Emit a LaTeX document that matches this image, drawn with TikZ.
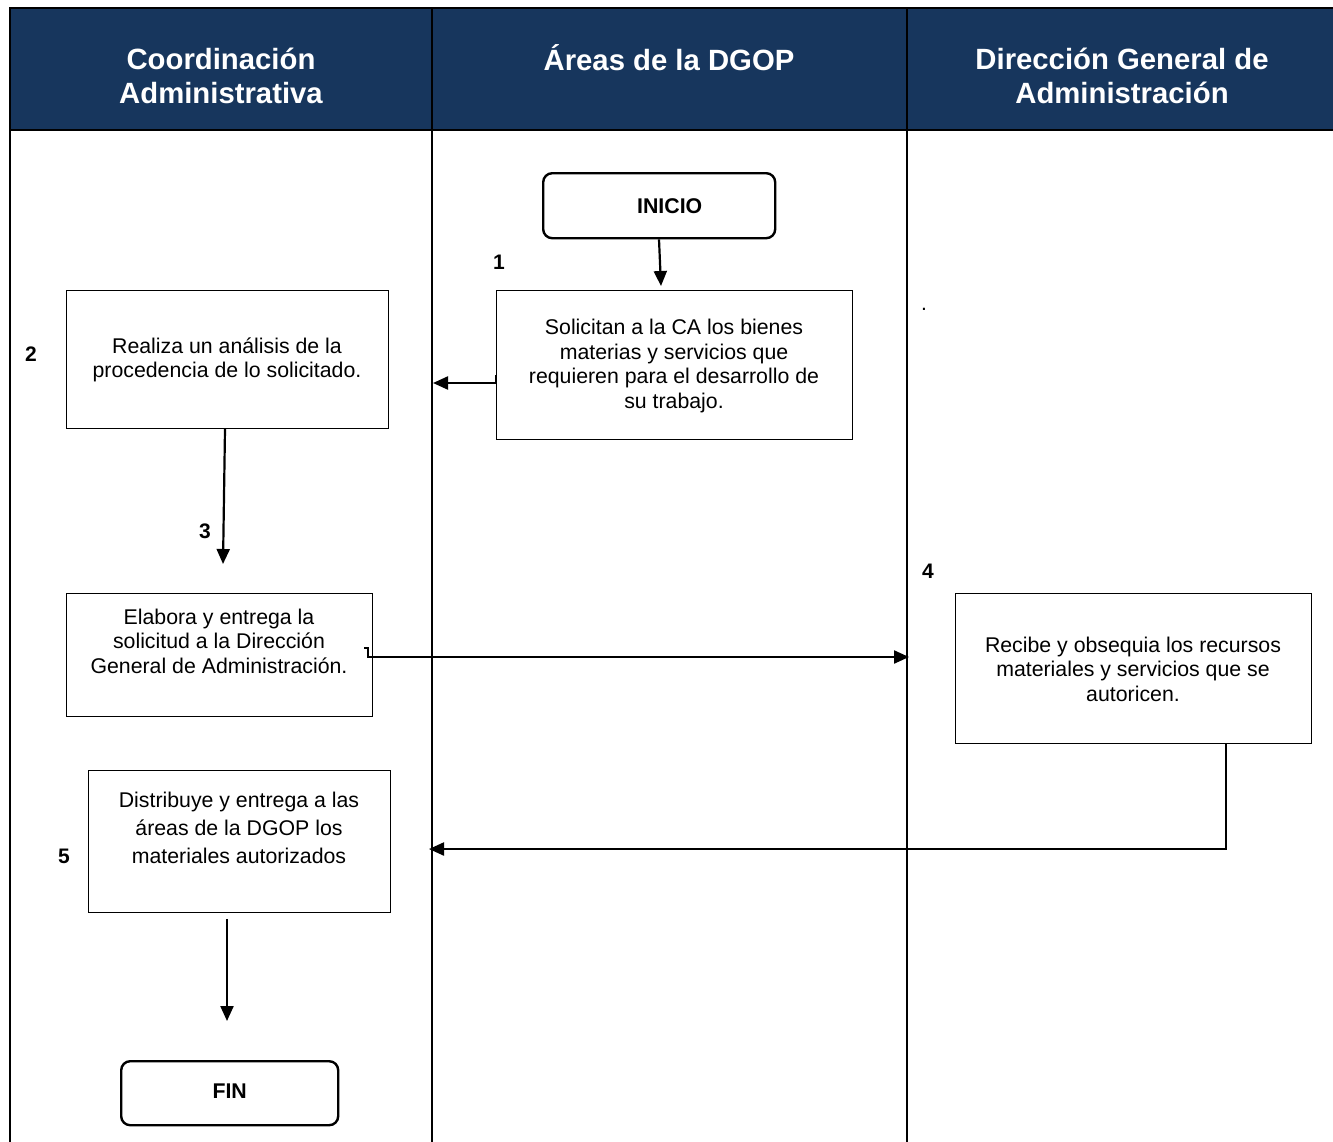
\documentclass[tikz,border=0pt]{standalone}
\usepackage{fontspec}
\setmainfont{Liberation Sans}
\usetikzlibrary{arrows.meta}
\definecolor{headblue}{RGB}{23,54,93}
\begin{document}
\begin{tikzpicture}[x=1pt,y=-1pt,
  lane/.style={line width=2.6pt},
  stepbox/.style={draw,line width=0.9pt,anchor=north west,inner sep=0pt},
  term/.style={draw,line width=2.4pt,rounded corners=9pt,anchor=north west,inner sep=0pt,
    font=\fontsize{21.3}{24}\selectfont\bfseries},
  txt/.style={align=center,inner sep=0pt,font=\fontsize{21.3}{24.5}\selectfont},
  head/.style={align=center,inner sep=0pt,text=white,font=\fontsize{29.3}{34}\selectfont\bfseries},
  num/.style={inner sep=0pt,font=\fontsize{21}{24}\selectfont\bfseries},
  flow/.style={line width=2.2pt,-{Triangle[length=15pt,width=13pt]}}]
\useasboundingbox (0,0) rectangle (1333,1141);

% header band and lane frame
\fill[headblue] (10,8) rectangle (1340,130);
\draw[lane] (10,1145) -- (10,8) -- (1340,8);
\draw[lane] (10,130) -- (1340,130);
\draw[lane] (432,8) -- (432,1145);
\draw[lane] (907,8) -- (907,1145);

\node[head] (h1) at (221,76) {Coordinación\\Administrativa};
\node[head] (h2) at (669,58) {Áreas de la DGOP};
\node[head] (h3) at (1122,76) {Dirección General de\\Administración};

% terminals
\node[term,minimum width=232pt,minimum height=65pt] (ini) at (542,172) {\hspace*{21pt}INICIO};
\node[term,minimum width=217pt,minimum height=64pt] (fin) at (120,1060) {\raisebox{4pt}{FIN}};

% process boxes
\node[stepbox,minimum width=356pt,minimum height=149pt] (b1) at (496,290) {};
\node[txt] (t1) at (674,366) {Solicitan a la CA los bienes\\materias y servicios que\\requieren para el desarrollo de\\su trabajo.};

\node[stepbox,minimum width=322pt,minimum height=138pt] (b2) at (66,290) {};
\node[txt] (t2) at (227,360) {Realiza un análisis de la\\procedencia de lo solicitado.};

\node[stepbox,minimum width=306pt,minimum height=123pt] (b3) at (66,593) {};
\node[txt] (t3) at (219,641) {Elabora y entrega la\\solicitud a la Dirección\\General de Administración.};

\node[stepbox,minimum width=356pt,minimum height=150pt] (b4) at (955,593) {};
\node[txt] (t4) at (1133,669) {Recibe y obsequia los recursos\\materiales y servicios que se\\autoricen.};

\node[stepbox,minimum width=302pt,minimum height=142pt] (b5) at (88,770) {};
\node[txt,font=\fontsize{21.3}{28}\selectfont] (t5) at (239,828) {Distribuye y entrega a las\\áreas de la DGOP los\\materiales autorizados};

% step numbers
\node[num] (n1) at (499,262) {1};
\node[num] (n2) at (31,354) {2};
\node[num] (n3) at (205,531) {3};
\node[num] (n4) at (928,571) {4};
\node[num] (n5) at (64,856) {5};
\node[inner sep=0pt,font=\fontsize{21}{21}\selectfont] (dot) at (924,309) {.};

% connectors
\coordinate (p1) at (661,286);
\coordinate (p2) at (433,383);
\coordinate (p3) at (223,564);
\coordinate (p4) at (909,657);
\coordinate (p5) at (429,849);
\coordinate (p6) at (227,1021);

\draw[flow] (ini.south -| 659,0) -- (p1);
\draw[flow] (b1.west |- 0,383) -- (p2);
\draw[line width=1.6pt] (b1.west |- 0,375) -- (b1.west |- 0,383);
\draw[flow] (b2.south -| 225,0) -- (p3);
\draw[flow] (364,648) -- (368,648) -- (368,657) -- (p4);
\draw[flow] (b4.south -| 1226,0) -- (1226,849) -- (p5);
\draw[flow] (b5.south -| 227,0) ++(0,6) -- (p6);
\end{tikzpicture}
\end{document}
